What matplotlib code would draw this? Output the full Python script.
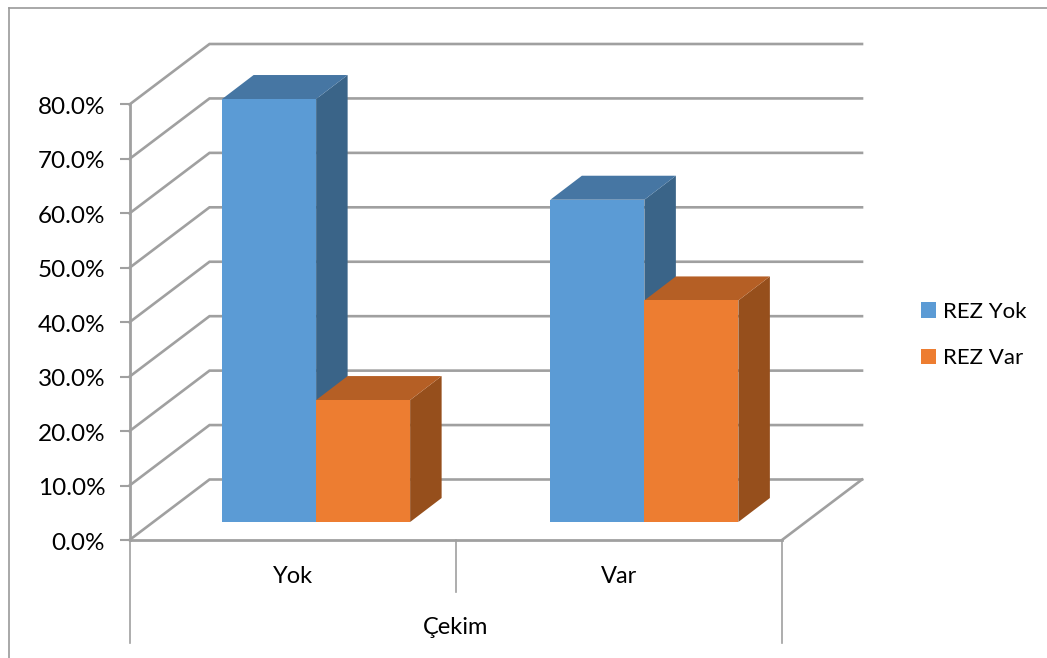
import numpy as np
import matplotlib
matplotlib.use("Agg")
import matplotlib.pyplot as plt
from matplotlib.patches import Polygon, Rectangle
from matplotlib.lines import Line2D
from matplotlib.transforms import ScaledTranslation

plt.rcParams['font.family'] = ['Lato', 'DejaVu Sans']

categories = ["Yok", "Var"]
group_label = "Çekim"
series_names = ["REZ Yok", "REZ Var"]
rez_yok = [77.7, 59.2]
rez_var = [22.4, 40.7]
y_ticks = [0, 10, 20, 30, 40, 50, 60, 70, 80]

front_colors = ["#5b9bd5", "#ed7d31"]
top_colors = ["#4676a3", "#b55f25"]
side_colors = ["#3a6488", "#964f1c"]
grid_color = "#a0a0a0"

W, H = 1047, 658
fig = plt.figure(figsize=(W / 100, H / 100), dpi=100)
# axes box is the front plane of the 3d chart
left, right, bottom, top = 129.5, 782, 540, 104.5
ax = fig.add_axes([left / W, 1 - bottom / H, (right - left) / W, (bottom - top) / H])
ax.set_xlim(-0.5, 1.5)
ax.set_ylim(0, 80)
ax.patch.set_visible(False)
for s in ax.spines.values():
    s.set_visible(False)

# floor/wall offset and bar offset, in data units
px_x = 2.0 / (right - left)
px_y = 80.0 / (bottom - top)
dx, dy = 80 * px_x, 60.5 * px_y
bar_dx, bar_dy = 23.5 * px_x, 18 * px_y
depth_x, depth_y = 31.5 * px_x, 24 * px_y
bar_w = 94 * px_x
group_nudge = [0, 2 * px_x]  # second group sits a little to the right

# wall gridlines
for t in y_ticks:
    ax.plot([-0.5, -0.5 + dx, 1.5 + dx], [t, t + dy, t + dy], color=grid_color, lw=1.9,
            clip_on=False, zorder=1, solid_joinstyle="miter")
ax.plot([1.5, 1.5 + dx], [0, dy], color=grid_color, lw=1.9, clip_on=False, zorder=1)
ax.plot([-0.5, 1.5], [0, 0], color=grid_color, lw=2.0, clip_on=False, zorder=2)
ax.plot([-0.5, -0.5], [0, 80], color=grid_color, lw=2.0, clip_on=False, zorder=2)


def draw_bar(x0, h, i):
    x0 = x0 + bar_dx
    y0 = bar_dy
    y1 = h + bar_dy
    x1 = x0 + bar_w
    ax.add_patch(Polygon([(x1, y0), (x1 + depth_x, y0 + depth_y), (x1 + depth_x, y1 + depth_y), (x1, y1)],
                         fc=side_colors[i], ec="none", clip_on=False, zorder=3))
    ax.add_patch(Polygon([(x0, y1), (x0 + depth_x, y1 + depth_y), (x1 + depth_x, y1 + depth_y), (x1, y1)],
                         fc=top_colors[i], ec="none", clip_on=False, zorder=3))
    ax.add_patch(Rectangle((x0, y0), bar_w, h, fc=front_colors[i], ec="none", clip_on=False, zorder=4))


for k in range(len(categories)):
    draw_bar(k + group_nudge[k] - bar_w, rez_yok[k], 0)
for k in range(len(categories)):
    draw_bar(k + group_nudge[k], rez_var[k], 1)

ax.set_yticks(y_ticks)
ax.set_yticklabels(["%.1f%%" % t for t in y_ticks], fontsize=17.5, color="#000000")
ax.tick_params(axis="y", length=7, width=1.5, color=grid_color, pad=10.5)
shift = ScaledTranslation(0, -1 / 100, fig.dpi_scale_trans)
for lab in ax.get_yticklabels():
    lab.set_transform(lab.get_transform() + shift)

ax.set_xticks(range(len(categories)))
ax.set_xticklabels(categories, fontsize=17)
ax.tick_params(axis="x", length=0, pad=19)

# multi level category separators
trans = ax.get_xaxis_transform()
sep_px = 1.0 / (bottom - top)
ax.plot([-0.5, -0.5], [0, -103 * sep_px], transform=trans, color=grid_color, lw=1.2, clip_on=False)
ax.plot([0.5, 0.5], [0, -52 * sep_px], transform=trans, color=grid_color, lw=1.2, clip_on=False)
ax.plot([1.5, 1.5], [0, -103 * sep_px], transform=trans, color=grid_color, lw=1.2, clip_on=False)
ax.text(0.5, -88 * sep_px, group_label, transform=trans, ha="center", va="center", fontsize=17)

handles = [Rectangle((0, 0), 1, 1, fc=c, ec="none") for c in front_colors]
fig.legend(handles, series_names, loc="center left", bbox_to_anchor=(921 / W, 1 - 335 / H),
           frameon=False, fontsize=16, handlelength=0.68, handleheight=0.68,
           handletextpad=0.32, labelspacing=1.2, borderpad=0, borderaxespad=0)

# chart frame
frame_c = "#9a9a9a"
fig.add_artist(Line2D([8.5 / W, 8.5 / W], [0, 1 - 7.5 / H], color=frame_c, lw=1.2))
fig.add_artist(Line2D([8.5 / W, 1], [1 - 7.5 / H, 1 - 7.5 / H], color=frame_c, lw=1.2))

fig.savefig("out.png", dpi=100, facecolor="white")
